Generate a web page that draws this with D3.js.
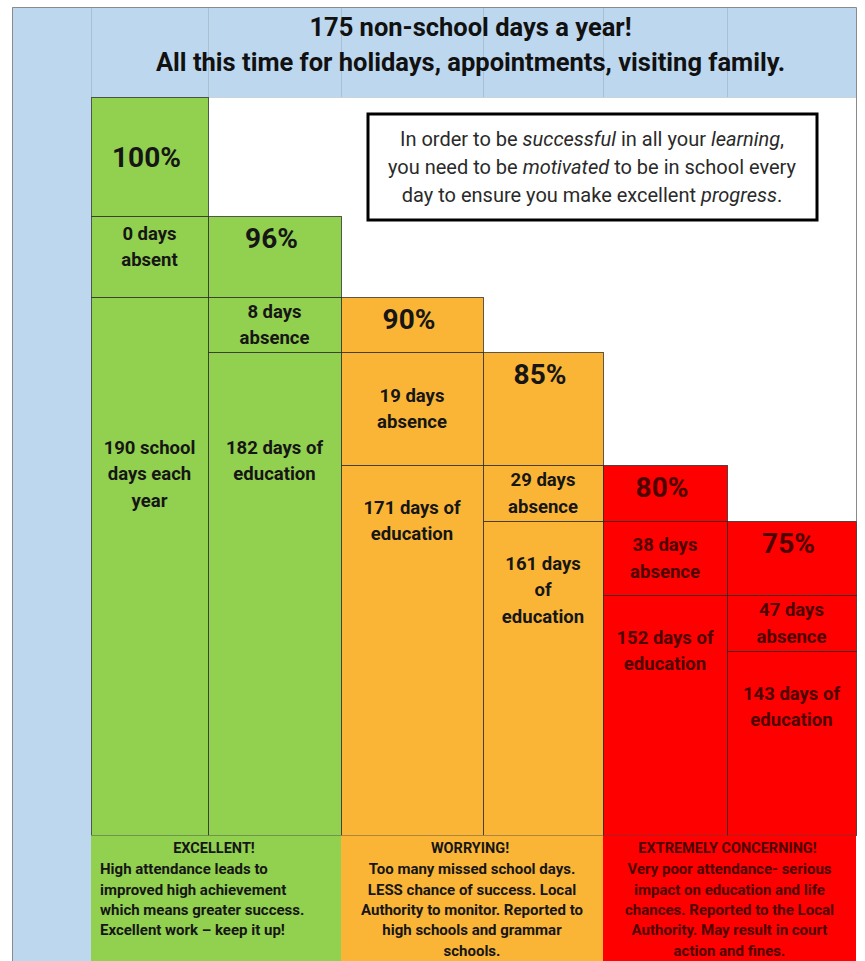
<!DOCTYPE html>
<html>
<head>
<meta charset="utf-8">
<script src="https://cdn.jsdelivr.net/npm/d3@7"></script>
<style>
  body { margin: 0; background: #fff; }
  svg { display: block; font-family: Roboto, "Open Sans", sans-serif; }
</style>
</head>
<body>
<script>
// attendance steps, one column each
const percentages = [100, 96, 90, 85, 80, 75];
const daysAbsent = [0, 8, 19, 29, 38, 47];
const daysEducation = [190, 182, 171, 161, 152, 143];
const bands = ["excellent", "excellent", "worrying", "worrying", "concerning", "concerning"];

const headerLines = [
  "175 non-school days a year!",
  "All this time for holidays, appointments, visiting family."
];

// [text, italic?]
const noteLines = [
  [["In order to be ", false], ["successful", true], [" in all your ", false], ["learning", true], [",", false]],
  [["you need to be ", false], ["motivated", true], [" to be in school every", false]],
  [["day to ensure you make excellent ", false], ["progress", true], [".", false]]
];

const verdictTitles = ["EXCELLENT!", "WORRYING!", "EXTREMELY CONCERNING!"];
const verdictLines = [
  ["High attendance leads to", "improved high achievement", "which means greater success.", "Excellent work \u2013 keep it up!"],
  ["Too many missed school days.", "LESS chance of success. Local", "Authority to monitor. Reported to", "high schools and grammar", "schools."],
  ["Very poor attendance- serious", "impact on education and life", "chances. Reported to the Local", "Authority. May result in court", "action and fines."]
];

const width = 865, height = 961;

// sheet grid: column edges and step rows (not proportional, like the original spreadsheet)
const x = d3.scaleLinear()
    .domain([-1, 0, 1, 2, 3, 4, 5, 6])
    .range([12, 91, 208, 341, 483, 603, 727, 856]);
const y = d3.scaleLinear()
    .domain([-1, 0, 1, 2, 3, 4, 5, 6, 7])
    .range([7, 97, 216, 297, 352, 465, 521, 595, 651]);
const yBase = 835;

const fill = d3.scaleOrdinal()
    .domain(["excellent", "worrying", "concerning"])
    .range(["#92d050", "#fbb536", "#ff0000"]);
const ink = d3.scaleOrdinal()
    .domain(["excellent", "worrying", "concerning"])
    .range(["#161616", "#161616", "#4e0000"]);

const svg = d3.select("body").append("svg")
    .attr("width", width)
    .attr("height", height)
    .attr("viewBox", [0, 0, width, height]);

// backgrounds
svg.append("rect")
    .attr("x", x(-1)).attr("y", y(-1))
    .attr("width", x(0) - x(-1)).attr("height", height - y(-1))
    .attr("fill", "#bdd7ee");
svg.append("rect")
    .attr("x", x(0)).attr("y", y(-1))
    .attr("width", x(6) - x(0)).attr("height", y(0) - y(-1))
    .attr("fill", "#bdd7ee");

// faint sheet gridlines in header
svg.append("g")
    .attr("stroke", "#a9bfd3")
    .attr("stroke-width", 1)
  .selectAll("line")
  .data(d3.range(0, 6))
  .join("line")
    .attr("x1", d => x(d) + 0.5).attr("x2", d => x(d) + 0.5)
    .attr("y1", y(-1)).attr("y2", y(0));

// outer border
svg.append("path")
    .attr("fill", "none")
    .attr("stroke", "#8a8a8a")
    .attr("d", `M${x(-1) + 0.5},${height}V${y(-1) + 0.5}H${x(6) + 0.5}V${y(5)}`);
svg.append("line")
    .attr("stroke", "#c9d3dc")
    .attr("x1", x(0)).attr("x2", x(6))
    .attr("y1", y(0) + 0.5).attr("y2", y(0) + 0.5);

// cells
const cells = percentages.flatMap((p, i) => [
  {i, kind: "pct", y0: y(i), y1: y(i + 1)},
  {i, kind: "absent", y0: y(i + 1), y1: y(i + 2)},
  {i, kind: "edu", y0: y(i + 2), y1: yBase}
]);

svg.append("g")
    .attr("stroke", "rgba(40,40,40,0.75)")
    .attr("stroke-width", 1)
  .selectAll("rect")
  .data(cells)
  .join("rect")
    .attr("x", d => x(d.i) + 0.5)
    .attr("y", d => d.y0 + 0.5)
    .attr("width", d => x(d.i + 1) - x(d.i))
    .attr("height", d => d.y1 - d.y0)
    .attr("fill", d => fill(bands[d.i]));

const labelSize = 18.5;
const pad = 24.5;

// measuring helper for wrapping
const probe = svg.append("text").attr("font-weight", "bold").attr("font-size", labelSize).attr("opacity", 0);
function wrap(str, maxW) {
  const words = str.split(" ");
  const lines = [];
  let cur = "";
  for (const w of words) {
    const t = cur ? cur + " " + w : w;
    probe.text(t);
    if (cur && probe.node().getComputedTextLength() > maxW) {
      lines.push(cur);
      cur = w;
    } else cur = t;
  }
  lines.push(cur);
  return lines;
}

const labels = svg.append("g")
    .attr("font-weight", "bold")
    .attr("text-anchor", "middle");

// percentage headings
labels.selectAll(".pct")
  .data(cells.filter(d => d.kind === "pct"))
  .join("text")
    .attr("class", "pct")
    .attr("x", d => (x(d.i) + x(d.i + 1)) / 2 - 3)
    .attr("y", d => d.i === 0 ? (d.y0 + d.y1) / 2 : d.y0 + 22)
    .attr("dy", "0.36em")
    .attr("font-size", 28)
    .attr("fill", d => ink(bands[d.i]))
    .text(d => percentages[d.i] + "%");

const lineH = 26.5;

function block(sel, linesOf, cy, firstLine) {
  sel.each(function(d) {
    const t = d3.select(this);
    const lines = linesOf(d);
    const start = firstLine ? firstLine(d) : cy(d) - (lines.length - 1) * lineH / 2;
    t.selectAll("tspan")
      .data(lines)
      .join("tspan")
        .attr("x", (x(d.i) + x(d.i + 1)) / 2)
        .attr("y", (l, k) => start + k * lineH)
        .attr("dy", "0.36em")
        .text(l => l);
  });
}

labels.selectAll(".absent")
  .data(cells.filter(d => d.kind === "absent"))
  .join("text")
    .attr("class", "absent")
    .attr("font-size", labelSize)
    .attr("fill", d => ink(bands[d.i]))
    .call(block,
      d => wrap(daysAbsent[d.i] + (d.i === 0 ? " days absent" : " days absence"), x(d.i + 1) - x(d.i) - pad),
      d => (d.y0 + d.y1) / 2 - (d.i === 0 ? 10 : 0));

labels.selectAll(".edu")
  .data(cells.filter(d => d.kind === "edu"))
  .join("text")
    .attr("class", "edu")
    .attr("font-size", labelSize)
    .attr("fill", d => ink(bands[d.i]))
    .call(block,
      d => wrap(daysEducation[d.i] + (d.i === 0 ? " school days each year" : " days of education"), x(d.i + 1) - x(d.i) - pad),
      null,
      d => Math.max(d.y0 + 42, y(4) - 18));

probe.remove();

// header text
svg.append("g")
    .attr("font-weight", "bold")
    .attr("font-size", 25.5)
    .attr("text-anchor", "middle")
    .attr("fill", "#111")
  .selectAll("text")
  .data(headerLines)
  .join("text")
    .attr("x", (x(0) + x(6)) / 2 - 3)
    .attr("y", (d, k) => 27 + k * 35)
    .attr("dy", "0.36em")
    .text(d => d);

// note box
const note = svg.append("g");
note.append("rect")
    .attr("x", 368).attr("y", 114)
    .attr("width", 449).attr("height", 106)
    .attr("fill", "#fff")
    .attr("stroke", "#000")
    .attr("stroke-width", 3);
note.append("g")
    .attr("font-size", 20)
    .attr("fill", "#2a2a2a")
    .attr("text-anchor", "middle")
  .selectAll("text")
  .data(noteLines)
  .join("text")
    .attr("x", 592)
    .attr("y", (d, k) => 139 + k * 28)
    .attr("dy", "0.36em")
  .selectAll("tspan")
  .data(d => d)
  .join("tspan")
    .attr("font-style", d => d[1] ? "italic" : "normal")
    .text(d => d[0]);

// verdict panels
const verdict = svg.append("g")
  .selectAll("g")
  .data(verdictTitles)
  .join("g");

verdict.append("rect")
    .attr("x", (d, k) => x(2 * k))
    .attr("y", yBase + 0.5)
    .attr("width", (d, k) => x(2 * k + 2) - x(2 * k))
    .attr("height", height - yBase)
    .attr("fill", (d, k) => fill(bands[2 * k]));

verdict.append("text")
    .attr("x", (d, k) => (x(2 * k) + x(2 * k + 2)) / 2 - 2)
    .attr("y", yBase + 13)
    .attr("dy", "0.36em")
    .attr("text-anchor", "middle")
    .attr("font-weight", "bold")
    .attr("font-size", 14.5)
    .attr("fill", (d, k) => ink(bands[2 * k]))
    .text(d => d);

verdict.append("text")
    .attr("font-weight", "bold")
    .attr("font-size", 15)
    .attr("fill", (d, k) => ink(bands[2 * k]))
    .attr("text-anchor", (d, k) => k === 0 ? "start" : "middle")
    .each(function(d, k) {
      d3.select(this).selectAll("tspan")
        .data(verdictLines[k])
        .join("tspan")
          .attr("x", k === 0 ? x(0) + 9 : (x(2 * k) + x(2 * k + 2)) / 2)
          .attr("y", (l, j) => yBase + 34 + j * 20.3)
          .attr("dy", "0.36em")
          .text(l => l);
    });
</script>
</body>
</html>
